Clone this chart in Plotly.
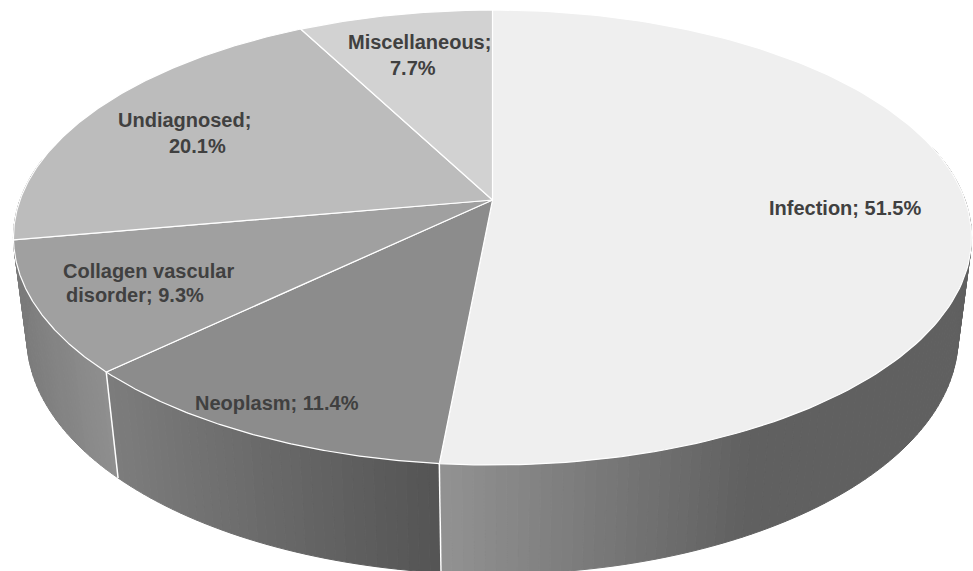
import numpy as np
import plotly.graph_objects as go

# Etiology shares, clockwise from twelve o'clock
categories = ["Infection", "Neoplasm", "Collagen vascular disorder", "Undiagnosed", "Miscellaneous"]
shares = [51.5, 11.4, 9.3, 20.1, 7.7]
top_greys = [239, 140, 160, 188, 210]

# Where each label wraps, and the left/middle position of each of its lines
label_lines = [
    [("Infection; 51.5%", 768, 208)],
    [("Neoplasm; 11.4%", 194, 403)],
    [("Collagen vascular", 62, 271), ("disorder; 9.3%", 65, 295)],
    [("Undiagnosed;", 117, 120), ("20.1%", 168, 146)],
    [("Miscellaneous;", 347, 42), ("7.7%", 389, 68)],
]

# Side wall shading: (screen x, grey) stops per slice
wall_stops = {
    0: [(442, 146), (700, 104), (745, 96), (972, 96)],
    1: [(117, 124), (440, 84)],
    2: [(16, 122), (115, 144)],
}

# Perspective model of the tilted disc
CX, CY = 492.5, 200.0
SCALE_X, SCALE_Y = 472.5, 221.3
PERSP = 0.1648
DEPTH_W, DEPTH_Y = 0.028, 101.7


def top_point(theta):
    sx, cy = np.sin(theta), np.cos(theta)
    w = 1 + PERSP * cy
    return CX + SCALE_X * sx / w, CY - SCALE_Y * cy / w


def base_point(theta):
    sx, cy = np.sin(theta), np.cos(theta)
    w = 1 + PERSP * cy + DEPTH_W
    return CX + SCALE_X * sx / w, CY - (SCALE_Y * cy - DEPTH_Y) / w


def grey(v):
    v = int(round(v))
    return f"rgb({v},{v},{v})"


edges = 2 * np.pi * np.cumsum([0] + shares) / sum(shares)
fig = go.Figure()

# Side walls: thin strips give the horizontal gradient
for i, stops in wall_stops.items():
    a0, a1 = edges[i], edges[i + 1]
    if i == 0:
        a0 = np.pi * 0.42  # the wall is hidden behind the disc further round
    if i == 2:
        a1 = np.pi * 1.56
    ts = np.linspace(a0, a1, int((a1 - a0) / 0.02) + 2)
    sx, sg = zip(*stops)
    for t0, t1 in zip(ts[:-1], ts[1:]):
        x0, y0 = top_point(t0)
        x1, y1 = top_point(t1)
        x2, y2 = base_point(t1)
        x3, y3 = base_point(t0)
        c = grey(np.interp((x0 + x1 + x2 + x3) / 4, sx, sg))
        fig.add_trace(go.Scatter(
            x=[x0, x1, x2, x3, x0], y=[y0, y1, y2, y3, y0],
            mode="lines", fill="toself", fillcolor=c,
            line=dict(color=c, width=1), hoverinfo="skip", showlegend=False,
        ))

# White seams between the visible walls
for i in (0, 1):
    t = edges[i + 1]
    x0, y0 = top_point(t)
    x1, y1 = base_point(t)
    fig.add_trace(go.Scatter(
        x=[x0, x1], y=[y0, y1], mode="lines",
        line=dict(color="white", width=1.5), hoverinfo="skip", showlegend=False,
    ))

# Top face of every slice
for i, name in enumerate(categories):
    ts = np.linspace(edges[i], edges[i + 1], 160)
    px, py = top_point(ts)
    c = grey(top_greys[i])
    fig.add_trace(go.Scatter(
        x=np.r_[CX, px, CX], y=np.r_[CY, py, CY],
        mode="lines", fill="toself", fillcolor=c, name=name,
        line=dict(color="white", width=1.2), hoverinfo="skip", showlegend=False,
    ))

for lines in label_lines:
    for text, x, y in lines:
        fig.add_annotation(
            x=x, y=y, text=text, showarrow=False, xanchor="left", yanchor="middle",
            xshift=-1, font=dict(family="Liberation Sans", size=20, color="#404040", weight="bold"),
        )

fig.update_layout(
    width=973, height=571, margin=dict(l=0, r=0, t=0, b=0),
    paper_bgcolor="white", plot_bgcolor="white",
    xaxis=dict(range=[0, 973], visible=False, fixedrange=True),
    yaxis=dict(range=[571, 0], visible=False, fixedrange=True),
)
fig.write_html("out.html", config=dict(displayModeBar=False))
